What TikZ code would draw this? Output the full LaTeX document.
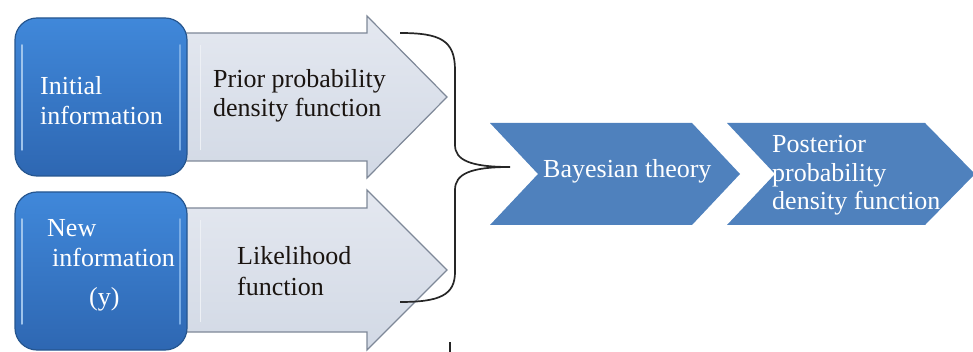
\documentclass[tikz,border=0pt]{standalone}
\usepackage{fontspec}
\setmainfont{Liberation Serif}
\definecolor{sqtop}{HTML}{4088DA}
\definecolor{sqbot}{HTML}{2E67B2}
\definecolor{sqedge}{HTML}{26568F}
\definecolor{arrfill}{HTML}{D2D9E5}
\definecolor{arrlight}{HTML}{E4E8F0}
\definecolor{arredge}{HTML}{7E8898}
\definecolor{chev}{HTML}{4F81BD}
\definecolor{txtdark}{HTML}{1A1410}
\tikzset{
  sq/.style={draw=sqedge, line width=1.2pt, rounded corners=22pt, top color=sqtop, bottom color=sqbot},
  arr/.style={draw=arredge, line width=1.2pt, top color=arrlight, bottom color=arrfill},
  chevron/.style={fill=chev, draw=none},
  brace/.style={draw=black!85, line width=1.7pt},
  lightline/.style={font=\fontsize{26}{29}\selectfont, text=white, inner sep=0pt, anchor=base west},
  darkline/.style={font=\fontsize{26}{29}\selectfont, text=txtdark, inner sep=0pt, anchor=base west},
}
\begin{document}
\begin{tikzpicture}[x=1pt,y=-1pt]
\useasboundingbox (0,0) rectangle (973,352);
% arrows
\draw[arr] (175,33) -- (367,33) -- (367,16) -- (447,97) -- (367,178) -- (367,161) -- (175,161) -- cycle;
\draw[arr] (175,208) -- (367,208) -- (367,190) -- (447,270) -- (367,350) -- (367,332) -- (175,332) -- cycle;
% bevel hints
\draw[white!60!arrfill, line width=1pt] (200,45) -- (200,150);
\draw[white!60!arrfill, line width=1pt] (200,220) -- (200,322);
% squares
\draw[sq] (15,18) rectangle (187,176);
\draw[sq] (15,192) rectangle (187,350);
\draw[white!50!sqtop, line width=1.5pt, line cap=round] (22,45) -- (22,150);
\draw[white!50!sqtop, line width=1.5pt, line cap=round] (22,219) -- (22,324);
\draw[white!30!sqtop, line width=1.5pt, line cap=round] (180,45) -- (180,150);
\draw[white!30!sqtop, line width=1.5pt, line cap=round] (180,219) -- (180,324);
% brace
\draw[brace] (400,33) .. controls (440,33) and (455,40) .. (455,70) -- (455,145)
  .. controls (455,160) and (470,167) .. (510,167)
  .. controls (470,167) and (455,174) .. (455,190) -- (455,272)
  .. controls (455,295) and (440,302) .. (400,302);
\draw[brace] (450,342) -- (450,352);
% chevrons
\fill[chevron] (490,123) -- (692,123) -- (740,174) -- (692,225) -- (490,225) -- (538,174) -- cycle;
\fill[chevron] (727,123) -- (925,123) -- (975,174) -- (925,225) -- (727,225) -- (775,174) -- cycle;
% texts
\node[lightline] (i1) at (40,95) {Initial};
\node[lightline] (i2) at (40,125) {information};
\node[darkline] (p1) at (213,88) {Prior probability};
\node[darkline] (p2) at (213,117) {density function};
\node[lightline] (n1) at (47,237) {New};
\node[lightline] (n2) at (52,267) {information};
\node[lightline] (n3) at (89,305) {(y)};
\node[darkline] (l1) at (237,265) {Likelihood};
\node[darkline] (l2) at (237,295) {function};
\node[lightline] (b1) at (543,178) {Bayesian theory};
\node[lightline] (q1) at (772,153) {Posterior};
\node[lightline] (q2) at (772,182) {probability};
\node[lightline] (q3) at (772,210) {density function};
\end{tikzpicture}
\end{document}
